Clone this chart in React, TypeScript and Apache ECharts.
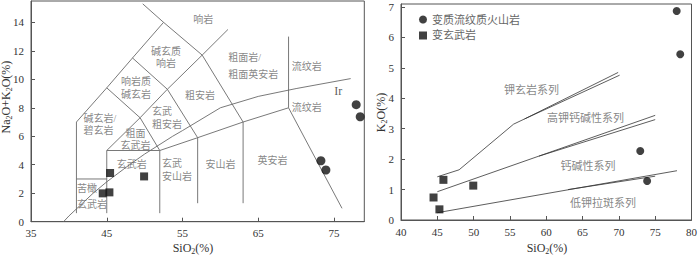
import React, { useEffect, useRef } from "react";
import * as echarts from "echarts";

// ---------- ticks ----------
const tasXTicks = [35, 45, 55, 65, 75];
const tasYTicks = [0, 2, 4, 6, 8, 10, 12, 14];
const kXTicks = [40, 45, 50, 55, 60, 65, 70, 75, 80];
const kYTicks = [0, 1, 2, 3, 4, 5, 6, 7];

// ---------- sample groups ----------
const groupNames = ["变质流纹质火山岩", "变玄武岩"];

// TAS diagram: [SiO2, Na2O+K2O]
const tasRhyolite = [[77.93, 8.22], [78.46, 7.37], [73.27, 4.28], [73.93, 3.63]];
const tasBasalt = [[45.44, 3.42], [45.35, 2.06], [44.47, 1.99], [49.93, 3.18]];

// K2O-SiO2 diagram: [SiO2, K2O]
const kRhyolite = [[77.96, 6.87], [78.45, 5.45], [72.94, 2.27], [73.89, 1.28]];
const kBasalt = [[45.84, 1.32], [44.48, 0.74], [45.29, 0.35], [49.95, 1.13]];

// TAS field boundaries
const tasBoundaries = [
  [[41, 0.6], [41, 7]],
  [[41, 3], [45, 3]],
  [[45, 0.6], [45, 5], [52, 5], [57, 5.9], [63, 7], [69, 8], [76.06, 0.94]],
  [[52, 0.6], [52, 5]],
  [[57, 1.3], [57, 5.9]],
  [[63, 1.3], [63, 7]],
  [[69, 8], [69, 13]],
  [[41, 7], [45, 9.4], [48.4, 11.5], [52.5, 14]],
  [[49.75, 15.3], [52.5, 14], [57.6, 11.7], [63, 7]],
  [[45, 9.4], [49.4, 7.3], [53, 9.3], [57.6, 11.7], [61, 13.5]],
  [[45, 5], [49.4, 7.3], [52, 5]],
  [[48.4, 11.5], [53, 9.3], [57, 5.9]],
];
// Irvine & Baragar alkaline / subalkaline divide
const irvineCurve = [
  [39.3, 0], [40, 0.4], [43.2, 2], [45, 2.8], [48, 4], [50, 4.75], [53.7, 6],
  [55, 6.4], [60, 8], [65, 8.8], [70, 9.35], [77.2, 10.05],
];
// K2O-SiO2 series boundaries
const kBoundaries = [
  [[45, 1.42], [48, 1.65], [55.5, 3.15], [57, 3.32], [69.9, 4.85]],
  [[57, 3.32], [70.1, 4.76]],
  [[45, 0.93], [75, 3.44]],
  [[59, 2.1], [75, 3.3]],
  [[45, 0.24], [78, 1.62]],
  [[63, 1.0], [75, 1.44]],
];

// field names [text, SiO2, value] (anchor in data units)
const tasLabels: [string, number, number][] = [
  ["响岩", 57.75, 14.22],
  ["碱玄质\n响岩", 52.82, 11.53],
  ["响岩质\n碱玄岩", 48.86, 9.37],
  ["碱玄岩/\n碧玄岩", 41.93, 6.83],
  ["玄武\n粗安岩", 50.97, 7.29],
  ["粗面\n玄武岩", 48.8, 5.8],
  ["玄武岩", 48.29, 4.05],
  ["玄武\n安山岩", 52.29, 3.64],
  ["苦橄\n玄武岩", 41.07, 1.78],
  ["粗面岩/\n粗面英安岩", 61.05, 10.93],
  ["流纹岩", 71.4, 10.89],
  ["流纹岩", 71.4, 8.01],
  ["粗安岩", 57.31, 8.83],
  ["安山岩", 60.02, 4.03],
  ["英安岩", 66.88, 4.33],
];
// text layout of each field name: [align, line height px]
const tasLabelLayout: [string, number][] = [
  ["center", 11], ["center", 11.8], ["center", 13.3], ["left", 12.4], ["left", 12.3],
  ["center", 11.8], ["center", 11], ["left", 13.7], ["left", 16], ["left", 17.7],
  ["center", 11], ["center", 11], ["center", 11], ["center", 11], ["center", 11],
];
const irLabel: [string, number, number] = ["Ir", 75.57, 9.2];
const kLabels: [string, number, number][] = [
  ["钾玄岩系列", 57.98, 4.27],
  ["高钾钙碱性系列", 65.42, 3.34],
  ["钙碱性系列", 65.76, 1.79],
  ["低钾拉斑系列", 67.8, 0.55],
];

const serif = "'Liberation Serif', 'Times New Roman', serif";
const cjk = "'Liberation Serif', 'Noto Sans CJK SC', serif";
const axisColor = "#555";
const textGray = "#666";

function makeAxis(gridIndex: number, min: number, max: number, ticks: number[], isY: boolean) {
  return {
    type: "value",
    gridIndex,
    min,
    max,
    axisLine: { show: true, onZero: false, lineStyle: { color: axisColor, width: 1 } },
    axisTick: { show: true, inside: true, length: 4, customValues: ticks, lineStyle: { color: axisColor } },
    axisLabel: {
      customValues: ticks,
      margin: isY ? 7 : 6,
      fontFamily: serif,
      fontSize: 11,
      color: "#333",
    },
    splitLine: { show: false },
  };
}

function lineSeries(points: number[][], idx: number, color: string, width: number) {
  return {
    type: "line",
    xAxisIndex: idx,
    yAxisIndex: idx,
    data: points,
    symbol: "none",
    silent: true,
    z: 1,
    lineStyle: { color, width },
  };
}

function labelSeries(
  items: [string, number, number][],
  idx: number,
  fontSize: number,
  extra?: any,
  layout?: [string, number][]
) {
  return {
    type: "scatter",
    xAxisIndex: idx,
    yAxisIndex: idx,
    silent: true,
    symbolSize: 1,
    itemStyle: { color: "rgba(0,0,0,0)" },
    z: 3,
    label: {
      show: true,
      position: "inside",
      formatter: "{b}",
      fontFamily: cjk,
      fontSize,
      lineHeight: fontSize + 1,
      color: textGray,
      ...(extra || {}),
    },
    data: items.map(([t, x, y], i) => {
      const d: any = { name: t, value: [x, y] };
      if (layout && layout[i]) {
        d.label = { align: layout[i][0], lineHeight: layout[i][1] };
      }
      return d;
    }),
  };
}

const nameRich = {
  a: { fontFamily: serif, fontSize: 12, lineHeight: 14, fill: "#333" },
  s: { fontFamily: serif, fontSize: 8, lineHeight: 8, verticalAlign: "bottom", fill: "#333" },
};

function nameText(text: string, x: number, y: number, rotate: boolean) {
  return {
    type: "text",
    x,
    y,
    rotation: rotate ? Math.PI / 2 : 0,
    silent: true,
    style: {
      text,
      rich: nameRich,
      align: "center",
      verticalAlign: "middle",
      fill: "#333",
    },
  };
}

export default function App() {
  const ref = useRef<HTMLDivElement>(null);
  useEffect(() => {
    if (!ref.current) return;
    const chart = echarts.init(ref.current, undefined, { renderer: "svg" });
    const option: any = {
      animation: false,
      backgroundColor: "#fff",
      grid: [
        { left: 31, top: 1, width: 333.3, height: 220.7, show: true, borderColor: axisColor, borderWidth: 1 },
        { left: 401, top: 4, width: 294.7, height: 216, show: true, borderColor: axisColor, borderWidth: 1 },
      ],
      xAxis: [makeAxis(0, 35, 79, tasXTicks, false), makeAxis(1, 40, 80, kXTicks, false)],
      yAxis: [makeAxis(0, 0, 15.5, tasYTicks, true), makeAxis(1, 0, 7.1, kYTicks, true)],
      legend: {
        data: [
          { name: groupNames[0], icon: "circle" },
          { name: groupNames[1], icon: "rect" },
        ],
        orient: "vertical",
        left: 414,
        top: 9,
        itemWidth: 8,
        itemHeight: 8,
        itemGap: 5,
        selectedMode: false,
        textStyle: { fontFamily: cjk, fontSize: 11, color: textGray },
      },
      graphic: [
        nameText("{a|SiO}{s|2}{a|(%)}", 193, 248, false),
        nameText("{a|SiO}{s|2}{a|(%)}", 547, 248, false),
        nameText("{a|Na}{s|2}{a|O+K}{s|2}{a|O(%)}", 6, 97, true),
        nameText("{a|K}{s|2}{a|O(%)}", 381, 112.5, true),
      ],
      series: [
        ...tasBoundaries.map((p) => lineSeries(p, 0, "#6a6a6a", 0.9)),
        lineSeries(irvineCurve, 0, "#6a6a6a", 0.9),
        ...kBoundaries.map((p) => lineSeries(p, 1, "#333", 0.8)),
        labelSeries(tasLabels, 0, 10, undefined, tasLabelLayout),
        labelSeries([irLabel], 0, 12, { fontFamily: serif, color: "#333", lineHeight: 12 }),
        labelSeries(kLabels, 1, 11),
        {
          type: "scatter", name: groupNames[0], xAxisIndex: 0, yAxisIndex: 0,
          symbol: "circle", symbolSize: 9, itemStyle: { color: "#111" }, z: 4, data: tasRhyolite,
        },
        {
          type: "scatter", name: groupNames[1], xAxisIndex: 0, yAxisIndex: 0,
          symbol: "rect", symbolSize: 8, itemStyle: { color: "#111" }, z: 4, data: tasBasalt,
        },
        {
          type: "scatter", name: groupNames[0], xAxisIndex: 1, yAxisIndex: 1,
          symbol: "circle", symbolSize: 8, itemStyle: { color: "#111" }, z: 4, data: kRhyolite,
        },
        {
          type: "scatter", name: groupNames[1], xAxisIndex: 1, yAxisIndex: 1,
          symbol: "rect", symbolSize: 8, itemStyle: { color: "#111" }, z: 4, data: kBasalt,
        },
      ],
    };
    chart.setOption(option);
    return () => chart.dispose();
  }, []);
  return (
    <div
      ref={ref}
      style={{ position: "fixed", left: 0, top: 0, width: 700, height: 255, background: "#fff" }}
    />
  );
}
